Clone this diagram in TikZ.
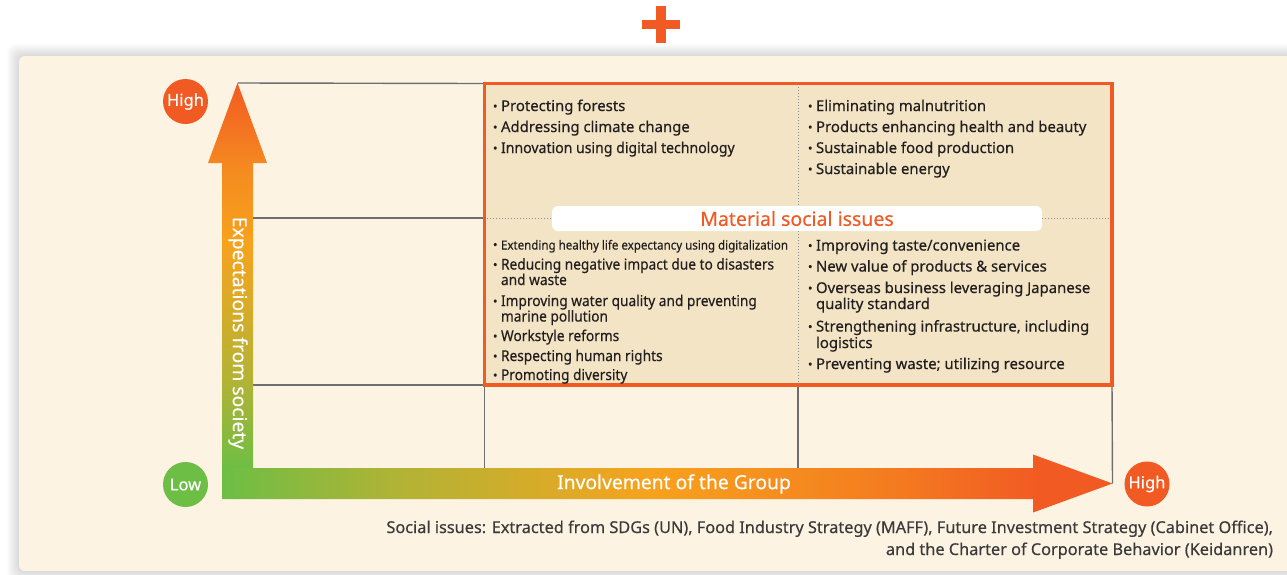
\documentclass[tikz,border=0pt]{standalone}
\usepackage{fontspec}
\setmainfont{Noto Sans}[FakeBold=0.35]
\usepackage{graphicx}
\definecolor{panel}{HTML}{FDF3E3}
\definecolor{boxfill}{HTML}{F2E4C4}
\definecolor{hot}{HTML}{F15A22}
\definecolor{amber}{HTML}{F7A21D}
\definecolor{leaf}{HTML}{6DBE45}
\definecolor{gridc}{HTML}{6D6E71}
\definecolor{ink}{HTML}{231F20}
\definecolor{footc}{HTML}{3A3A3A}
\definecolor{olive}{HTML}{B2B335}
\definecolor{mustard}{HTML}{DDAA27}
\definecolor{tang}{HTML}{F47A20}
\definecolor{tangdeep}{HTML}{F58A20}
% TikZ fits the middle half (25bp..75bp) of a declared shading to the path
\pgfdeclarehorizontalshading{hgrad}{100bp}{color(0bp)=(leaf); color(25bp)=(leaf); color(35bp)=(olive); color(44bp)=(mustard); color(49bp)=(amber); color(63bp)=(tang); color(71bp)=(hot); color(100bp)=(hot)}
\pgfdeclareverticalshading{vgrad}{100bp}{color(0bp)=(leaf); color(25bp)=(leaf); color(36.5bp)=(olive); color(47.5bp)=(mustard); color(54.5bp)=(amber); color(64bp)=(tangdeep); color(75bp)=(hot); color(100bp)=(hot)}
\newcommand\blt{\makebox[8pt][l]{\raisebox{0.6pt}{\scalebox{0.8}{•}}}}
% narrower setting for the lower left list
\newcommand\cnd[1]{\scalebox{0.92}[1]{#1}}
\begin{document}
\begin{tikzpicture}[x=1pt,y=-1pt,
  every node/.style={inner sep=0pt, outer sep=0pt},
  itm/.style={anchor=base west, font=\fontsize{14.9}{16}\selectfont, text=ink},
  foot/.style={anchor=base east, font=\fontsize{16.3}{18}\selectfont, text=footc},
  dot/.style={circle, minimum size=45pt, text=white, font=\fontsize{16.5}{18}\selectfont},
  axislbl/.style={text=white, font=\fontsize{19.3}{21}\selectfont},
  gridline/.style={draw=gridc, line width=1.4pt},
  sepline/.style={draw=gridc!80, line width=1pt, dotted}]
\useasboundingbox (0,0) rectangle (1287,574);
\fill[white] (0,0) rectangle (1287,574);
\clip (0,0) rectangle (1287,574);

% soft shadow round the panel
\foreach \s in {1,...,12}
  \fill[black, opacity=0.011, rounded corners=8pt] (19-\s,56-\s) rectangle (1310,571+\s);
% panel
\fill[panel, rounded corners=6pt] (19,56) rectangle (1310,571);

% plus sign above the panel
\fill[hot] (656,6) rectangle (666,43);
\fill[hot] (642,20) rectangle (680,29);

% points of the grid
\coordinate (tip) at (237.5,83);
\coordinate (g1) at (253,218);
\coordinate (g2) at (253,385);
\coordinate (c0) at (484.5,83.5);
\coordinate (c1) at (484.5,218);
\coordinate (c2) at (484.5,385);
\coordinate (m2) at (798,385);
\coordinate (r2) at (1112,385);
\coordinate (b0) at (484.5,468);
\coordinate (b1) at (798,468);
\coordinate (htip) at (1112.5,483.5);

% grid lines
\draw[gridline] (tip) -- (c0);
\draw[gridline] (g1) -- (c1);
\draw[gridline] (g2) -- (c2);
\draw[gridline] (c2) -- (b0);
\draw[gridline] (m2) -- (b1);
\draw[gridline] (r2) -- (htip);

% material issues block
\draw[hot, line width=3.5pt, fill=boxfill] (484.5,83.5) rectangle (1112,385);
\coordinate (dv0) at (798,87);
\coordinate (dv1) at (798,383);
\coordinate (dh0) at (487,218);
\coordinate (dh1) at (1110,218);
\draw[sepline] (dv0) -- (dv1);
\draw[sepline] (dh0) -- (dh1);
\node[fill=white, rounded corners=6pt, minimum width=490pt, minimum height=25pt,
      text=hot, font=\fontsize{19.5}{21}\selectfont] (mat) at (797,218.5) {Material social issues};

% vertical axis arrow
\shade[shading=vgrad] (222,470) -- (222,163) -- (208,163) -- (237.5,83) -- (267,163) -- (253,163) -- (253,470) -- cycle;
% horizontal axis arrow
\shade[shading=hgrad] (222,468) -- (1033,468) -- (1033,454.5) -- (1112.5,483.5) -- (1033,512.5) -- (1033,499) -- (222,499) -- cycle;
\node[axislbl, rotate=-90] (ylbl) at (238,333) {Expectations from society};
\node[axislbl] (xlbl) at (674,484) {Involvement of the Group};

% end markers
\node[dot, fill=hot] (yhigh) at (185.5,101.5) {High};
\node[dot, fill=leaf] (low) at (185.5,484.5) {Low};
\node[dot, fill=hot] (xhigh) at (1147,484) {High};

% upper left
\node[itm] (a1) at (493,111) {\blt Protecting forests};
\node[itm] (a2) at (493,132) {\blt Addressing climate change};
\node[itm] (a3) at (493,153) {\blt \scalebox{0.945}[1]{Innovation using digital technology}};
% upper right
\node[itm] (b1t) at (808,111) {\blt Eliminating malnutrition};
\node[itm] (b2t) at (808,132) {\blt Products enhancing health and beauty};
\node[itm] (b3t) at (808,153) {\blt Sustainable food production};
\node[itm] (b4t) at (808,174) {\blt Sustainable energy};
% lower left
\node[itm] (c1t) at (493,249.5) {\blt\resizebox{287pt}{\height}{\fontsize{12.5}{15}\selectfont Extending healthy life expectancy using digitalization}};
\node[itm] (c2t) at (493,269.5) {\blt \cnd{Reducing negative impact due to disasters}};
\node[itm] (c2u) at (501,285) {\cnd{and waste}};
\node[itm] (c3t) at (493,306) {\blt \cnd{Improving water quality and preventing}};
\node[itm] (c3u) at (501,321.5) {\cnd{marine pollution}};
\node[itm] (c4t) at (493,341) {\blt \cnd{Workstyle reforms}};
\node[itm] (c5t) at (493,361) {\blt \cnd{Respecting human rights}};
\node[itm] (c6t) at (493,380) {\blt \cnd{Promoting diversity}};
% lower right
\node[itm] (d1t) at (808,250.5) {\blt Improving taste/convenience};
\node[itm] (d2t) at (808,271.5) {\blt New value of products \& services};
\node[itm] (d3t) at (808,293) {\blt Overseas business leveraging Japanese};
\node[itm] (d3u) at (816,309) {quality standard};
\node[itm] (d4t) at (808,331.5) {\blt Strengthening infrastructure, including};
\node[itm] (d4u) at (816,348) {logistics};
\node[itm] (d5t) at (808,369) {\blt Preventing waste; utilizing resource};

% source note
\node[foot] (src1) at (1273,533) {Social issues: Extracted from SDGs (UN), Food Industry Strategy (MAFF), Future Investment Strategy (Cabinet Office),};
\node[foot] (src2) at (1273,555) {and the Charter of Corporate Behavior (Keidanren)};
\end{tikzpicture}
\end{document}
